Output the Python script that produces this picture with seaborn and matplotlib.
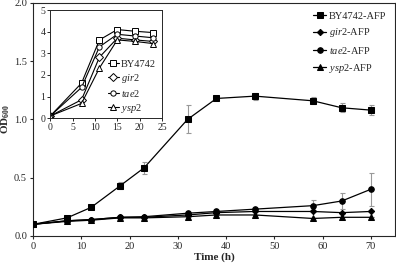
import matplotlib
matplotlib.use('Agg')
import matplotlib.pyplot as plt
import seaborn as sns
import pandas as pd
import numpy as np

# main panel: OD600 of AFP strains
time_main = [0, 7, 12, 18, 23, 32, 38, 46, 58, 64, 70]
by4742_afp = [0.10, 0.155, 0.245, 0.43, 0.585, 1.00, 1.18, 1.20, 1.16, 1.10, 1.08]
by4742_err = [0.0, 0.01, 0.01, 0.03, 0.05, 0.12, 0.0, 0.03, 0.03, 0.04, 0.04]
gir2_afp = [0.10, 0.13, 0.14, 0.16, 0.16, 0.18, 0.20, 0.21, 0.21, 0.20, 0.21]
gir2_err = [0.0, 0.0, 0.0, 0.0, 0.0, 0.0, 0.0, 0.0, 0.0, 0.0, 0.0]
tae2_afp = [0.10, 0.13, 0.14, 0.16, 0.165, 0.195, 0.21, 0.23, 0.26, 0.30, 0.40]
tae2_err = [0.0, 0.0, 0.0, 0.0, 0.0, 0.0, 0.0, 0.0, 0.05, 0.07, 0.14]
ysp2_afp = [0.10, 0.125, 0.135, 0.155, 0.155, 0.165, 0.18, 0.18, 0.15, 0.16, 0.16]
ysp2_err = [0.0, 0.0, 0.0, 0.0, 0.0, 0.0, 0.0, 0.0, 0.0, 0.0, 0.0]

# inset: parental strains
time_ins = [0, 7, 11, 15, 19, 23]
by4742 = [0.1, 1.62, 3.62, 4.1, 4.02, 3.96]
gir2 = [0.1, 0.85, 2.82, 3.7, 3.62, 3.55]
tae2 = [0.1, 1.42, 3.3, 3.88, 3.8, 3.72]
ysp2 = [0.1, 0.68, 2.32, 3.62, 3.55, 3.45]

sns.set_style('ticks')
plt.rcParams['font.family'] = ['Liberation Serif', 'DejaVu Serif']
plt.rcParams['mathtext.fontset'] = 'custom'
plt.rcParams['mathtext.rm'] = 'Liberation Serif'
plt.rcParams['mathtext.it'] = 'Liberation Serif:italic'
plt.rcParams['mathtext.bf'] = 'Liberation Serif:bold'

fig = plt.figure(figsize=(3.96, 2.66), dpi=100)
ax = fig.add_axes([0.084, 0.113, 0.913, 0.876])

main = [
    ('BY4742-AFP', by4742_afp, by4742_err, 's', 4.0),
    (r'$\it{gir2}$-AFP', gir2_afp, gir2_err, 'D', 3.2),
    (r'$\it{tae2}$-AFP', tae2_afp, tae2_err, 'o', 4.0),
    (r'$\it{ysp2}$-AFP', ysp2_afp, ysp2_err, '^', 4.2),
]
for label, vals, err, mk, ms in main:
    ax.errorbar(time_main, vals, yerr=err, fmt='none', ecolor='#999999',
                elinewidth=0.8, capsize=1.8, capthick=0.8, zorder=1)
    df = pd.DataFrame({'t': time_main, 'v': vals})
    sns.lineplot(data=df, x='t', y='v', ax=ax, color='black', lw=0.9,
                 marker=mk, markersize=ms, markeredgecolor='black',
                 label=label, zorder=3)

ax.set_xlim(0, 75)
ax.set_ylim(0, 2.0)
ax.set_xticks(range(0, 80, 10))
ax.set_yticks(np.arange(0, 2.01, 0.5))
ax.set_yticklabels(['0.0', '0.5', '1.0', '1.5', '2.0'])
ax.tick_params(labelsize=7.5, length=2.5, width=0.8, pad=2)
ax.set_xlabel('Time (h)', fontsize=8, fontweight='bold', labelpad=1)
ax.set_ylabel(r'$\mathbf{OD_{600}}$', fontsize=8)
ax.yaxis.set_label_coords(-0.058, 0.5)
for s in ax.spines.values():
    s.set_linewidth(0.8)
leg = ax.legend(loc='upper right', frameon=False, fontsize=7.5,
                handlelength=1.2, handletextpad=0.3, labelspacing=0.55,
                borderaxespad=0.4)

# inset
axi = fig.add_axes([0.127, 0.556, 0.282, 0.406])
ins = [
    ('BY4742', by4742, 's'),
    (r'$\it{gir2}$', gir2, 'D'),
    (r'$\it{tae2}$', tae2, 'o'),
    (r'$\it{ysp2}$', ysp2, '^'),
]
for label, vals, mk in ins:
    df = pd.DataFrame({'t': time_ins, 'v': vals})
    sns.lineplot(data=df, x='t', y='v', ax=axi, color='black', lw=0.8,
                 marker=mk, markersize=3.8, markerfacecolor='white',
                 markeredgecolor='black', markeredgewidth=0.7, label=label)
axi.set_xlim(0, 25)
axi.set_ylim(0, 5)
axi.set_xticks(range(0, 26, 5))
axi.set_yticks(range(0, 6))
axi.tick_params(labelsize=7, length=2, width=0.7, pad=1.5)
axi.set_xlabel('')
axi.set_ylabel('')
for s in axi.spines.values():
    s.set_linewidth(0.7)
axi.legend(loc='lower right', bbox_to_anchor=(1.0, -0.03), frameon=False,
           fontsize=7.5, handlelength=1.0, handletextpad=0.2,
           labelspacing=0.3, borderaxespad=0.2)

fig.savefig('out.png', dpi=100)
